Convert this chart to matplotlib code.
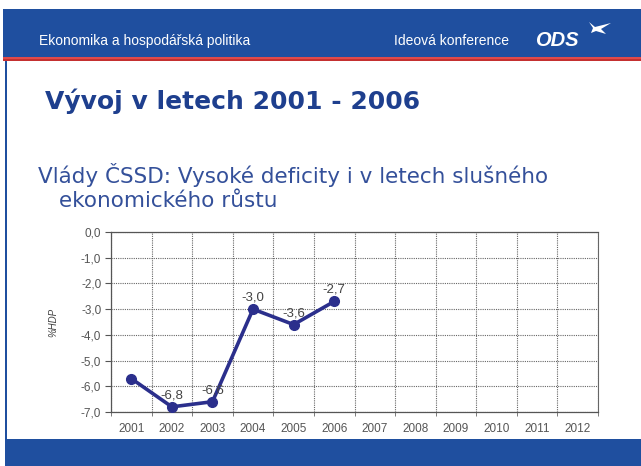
import matplotlib as mpl
import matplotlib.pyplot as plt
import numpy as np
from matplotlib.patches import Rectangle, Polygon

mpl.use("Agg")

# Data
years = ['2001', '2002', '2003', '2004', '2005', '2006',
         '2007', '2008', '2009', '2010', '2011', '2012']
deficit = [-5.7, -6.8, -6.6, -3.0, -3.6, -2.7]
shown_labels = [None, '-6,8', '-6,6', '-3,0', '-3,6', '-2,7']
yticks = [0, -1, -2, -3, -4, -5, -6, -7]

W, H = 641, 466
blue = '#1f4f9f'
title_blue = '#1e3f8e'
sub_blue = '#34509a'
line_col = '#2b2f8c'

fig = plt.figure(figsize=(W / 100, H / 100), dpi=100)
fig.patch.set_facecolor('white')

# slide background (pixel coords)
bg = fig.add_axes([0, 0, 1, 1])
bg.set_xlim(0, W)
bg.set_ylim(H, 0)
bg.axis('off')

bg.add_patch(Rectangle((3, 9), W - 3, 48, color=blue, lw=0))
bg.add_patch(Rectangle((3, 57), W - 3, 2, color='#e04a4a', lw=0))
bg.add_patch(Rectangle((3, 59), W - 3, 2, color='#c43030', lw=0))
bg.add_patch(Rectangle((5, 61), 1.5, 378, color=blue, lw=0))
bg.add_patch(Rectangle((5, 439), W - 5, 27, color=blue, lw=0))

bg.text(39, 41, 'Ekonomika a hospodářská politika', color='white',
        fontsize=10, family='Liberation Sans', va='center', ha='left')
bg.text(394, 41, 'Ideová konference', color='white',
        fontsize=10, family='Liberation Sans', va='center', ha='left')
bg.text(535, 41, 'ODS', color='white', fontsize=14.5, fontweight='bold',
        fontstyle='italic', family='Liberation Sans', va='center', ha='left')
# bird logo
bg.add_patch(Polygon([[589, 22], [595, 27], [611, 23], [601, 29],
                      [606, 34], [596, 31], [591, 33], [593, 28]],
                     closed=True, color='white', lw=0))

bg.text(45, 109, 'Vývoj v letech 2001 - 2006', color=title_blue,
        fontsize=18, fontweight='bold', family='DejaVu Sans',
        va='baseline', ha='left')
bg.text(38, 183, 'Vlády ČSSD: Vysoké deficity i v letech slušného',
        color=sub_blue, fontsize=15.5, family='DejaVu Sans',
        va='baseline', ha='left')
bg.text(59, 207, 'ekonomického růstu', color=sub_blue, fontsize=15.5,
        family='DejaVu Sans', va='baseline', ha='left')

# chart
left, right, top, bottom = 111, 598, 232, 412
ax = fig.add_axes([left / W, (H - bottom) / H, (right - left) / W, (bottom - top) / H])
x = np.arange(len(deficit))
ax.plot(x, deficit, '-o', color=line_col, lw=2.6, ms=7, zorder=3)
for xi, v, lab in zip(x, deficit, shown_labels):
    if lab:
        ax.annotate(lab, (xi, v), xytext=(0, 4), textcoords='offset points',
                    ha='center', va='bottom', fontsize=9.5, color='#444',
                    family='Liberation Sans')

ax.set_xlim(-0.5, len(years) - 0.5)
ax.set_ylim(-7, 0)
ax.set_xticks(np.arange(len(years)))
ax.set_xticklabels(years)
ax.set_xticks(np.arange(len(years) + 1) - 0.5, minor=True)
ax.set_yticks(yticks)
ax.set_yticklabels([f'{v:.1f}'.replace('.', ',') for v in yticks])
ax.tick_params(axis='x', which='major', length=0, pad=8, labelsize=8.5,
               labelcolor='#555')
ax.tick_params(axis='x', which='minor', length=3, color='#666')
ax.tick_params(axis='y', length=4, color='#555', pad=3, labelsize=8.5,
               labelcolor='#555')
for lbl in ax.get_xticklabels() + ax.get_yticklabels():
    lbl.set_family('Liberation Sans')

ax.grid(True, axis='y', which='major', ls=(0, (1, 1)), color='#666', lw=0.8)
ax.grid(True, axis='x', which='minor', ls=(0, (1, 1)), color='#666', lw=0.8)
for s in ['left', 'bottom', 'top']:
    ax.spines[s].set_color('#555')
    ax.spines[s].set_linewidth(0.9)
ax.spines['right'].set_linestyle((0, (1, 1)))
ax.spines['right'].set_color('#666')
ax.set_ylabel('%HDP', fontsize=7, fontstyle='italic', color='#444',
              family='Liberation Sans', labelpad=16)

fig.savefig('out.png', dpi=100)
